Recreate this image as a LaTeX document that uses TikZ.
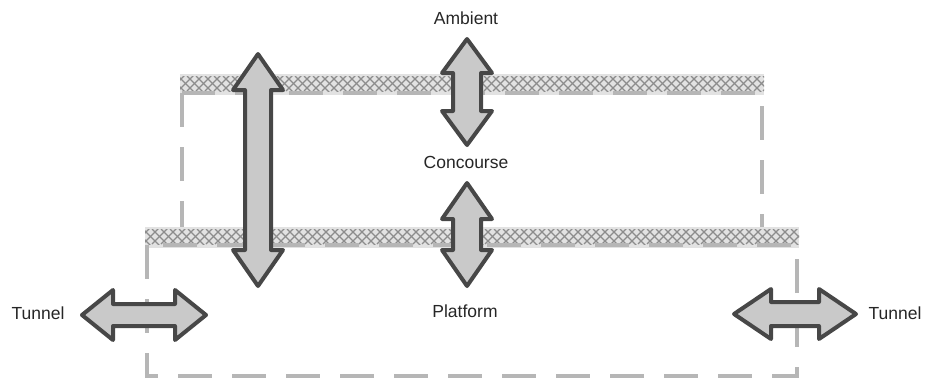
\documentclass[tikz,border=0pt]{standalone}
\usepackage{fontspec}
\setmainfont{Liberation Sans}

\definecolor{slabgray}{HTML}{E2E2E2}
\definecolor{hatchgray}{HTML}{8C8C8C}
\definecolor{wallgray}{HTML}{B6B6B6}
\definecolor{arrowline}{HTML}{474747}
\definecolor{arrowfill}{HTML}{C9C9C9}

\tikzset{
  wall/.style={draw=wallgray, line width=4pt, dash pattern=on 34pt off 20pt},
  hatchline/.style={draw=hatchgray, line width=1.2pt},
  blockarrow/.style={draw=arrowline, fill=arrowfill, line width=4pt, line join=round},
  label/.style={inner sep=0pt, text height=12.6pt, text depth=0pt,
    font=\fontsize{17.5}{20}\selectfont, text=black!85}
}

% vertical double block arrow: centre x, top tip, bottom tip, head length, half head width, half shaft width
\newcommand\vblockarrow[6]{%
  \draw[blockarrow] (#1,#2) -- ({#1+#5},{#2+#4}) -- ({#1+#6},{#2+#4})
    -- ({#1+#6},{#3-#4}) -- ({#1+#5},{#3-#4}) -- (#1,#3)
    -- ({#1-#5},{#3-#4}) -- ({#1-#6},{#3-#4}) -- ({#1-#6},{#2+#4})
    -- ({#1-#5},{#2+#4}) -- cycle;}
% horizontal double block arrow: centre y, left tip, right tip, head length, half head height, half shaft height
\newcommand\hblockarrow[6]{%
  \draw[blockarrow] (#2,#1) -- ({#2+#4},{#1-#5}) -- ({#2+#4},{#1-#6})
    -- ({#3-#4},{#1-#6}) -- ({#3-#4},{#1-#5}) -- (#3,#1)
    -- ({#3-#4},{#1+#5}) -- ({#3-#4},{#1+#6}) -- ({#2+#4},{#1+#6})
    -- ({#2+#4},{#1+#5}) -- cycle;}
% hatched floor slab: left, top, right, bottom
\newcommand\floorslab[4]{%
  \fill[slabgray] (#1,#2) rectangle (#3,#4);
  \begin{scope}
    \clip (#1,{#2+2}) rectangle (#3,{#4-4});
    \foreach \k in {0,9,...,700}{
      \draw[hatchline] ({#1+\k-20},{#2+2}) -- ++(17,17);
      \draw[hatchline] ({#1+\k-20},{#4-4}) -- ++(17,-17);
    }
  \end{scope}}

\begin{document}
\begin{tikzpicture}[x={(1pt,0)}, y={(0,-1pt)}]
  \useasboundingbox (0,0) rectangle (925,381);

  % concourse level
  \floorslab{180}{74}{764}{95}
  \draw[wall] (181.5,93) rectangle (762,231);

  % platform level
  \floorslab{145}{227}{799}{248}
  \draw[wall] (147,245) rectangle (797,376);

  % movement arrows
  \vblockarrow{258}{54}{286}{36}{25}{13}
  \vblockarrow{467}{39}{145}{34}{25}{14}
  \vblockarrow{467}{183}{286}{36}{25}{14}
  \hblockarrow{315}{82}{206}{31}{25}{11}
  \hblockarrow{314}{734}{856}{37}{25}{12}

  % level names
  \node[label] (ambient)   at (466,18)  {Ambient};
  \node[label] (concourse) at (466,162) {Concourse};
  \node[label] (platform)  at (465,311) {Platform};
  \node[label] (tunnelL)   at (38,313)  {Tunnel};
  \node[label] (tunnelR)   at (895,313) {Tunnel};
\end{tikzpicture}
\end{document}
